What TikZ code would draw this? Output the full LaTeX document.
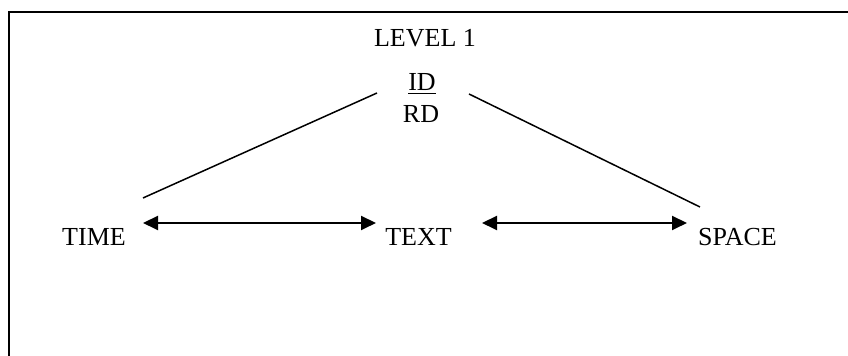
\documentclass[tikz,border=0pt]{standalone}
\usepackage{fontspec}
\setmainfont{Liberation Serif}
\usetikzlibrary{arrows.meta}
\begin{document}
\begin{tikzpicture}[x=0.5pt,y=-0.5pt,
  lbl/.style={anchor=base,inner sep=0pt,font=\fontsize{13}{15}\selectfont},
  link/.style={line width=0.75pt},
  dbl/.style={line width=1pt,{Triangle[length=7.5pt,width=7pt]}-{Triangle[length=7.5pt,width=7pt]}},
  frame/.style={line width=1pt}]
\useasboundingbox (0,0) rectangle (848,356);
\draw[frame] (9,360) -- (9,12) -- (850,12);
\node[lbl] (lev) at (425,47) {LEVEL 1};
\node[lbl] (id) at (422,91) {\underline{ID}};
\node[lbl] (rd) at (421,123) {RD};
\node[lbl] (time) at (94,246) {TIME};
\node[lbl] (text) at (418.5,246) {TEXT};
\node[lbl] (space) at (737.5,246) {SPACE};
\coordinate (l1) at (377,93);
\coordinate (l2) at (143,198);
\coordinate (r1) at (469,94);
\coordinate (r2) at (700,207);
\coordinate (a1) at (143,223);
\coordinate (a2) at (376,223);
\coordinate (b1) at (482,223);
\coordinate (b2) at (687,223);
\draw[link] (l1) -- (l2);
\draw[link] (r1) -- (r2);
\draw[dbl] (a1) -- (a2);
\draw[dbl] (b1) -- (b2);
\end{tikzpicture}
\end{document}
